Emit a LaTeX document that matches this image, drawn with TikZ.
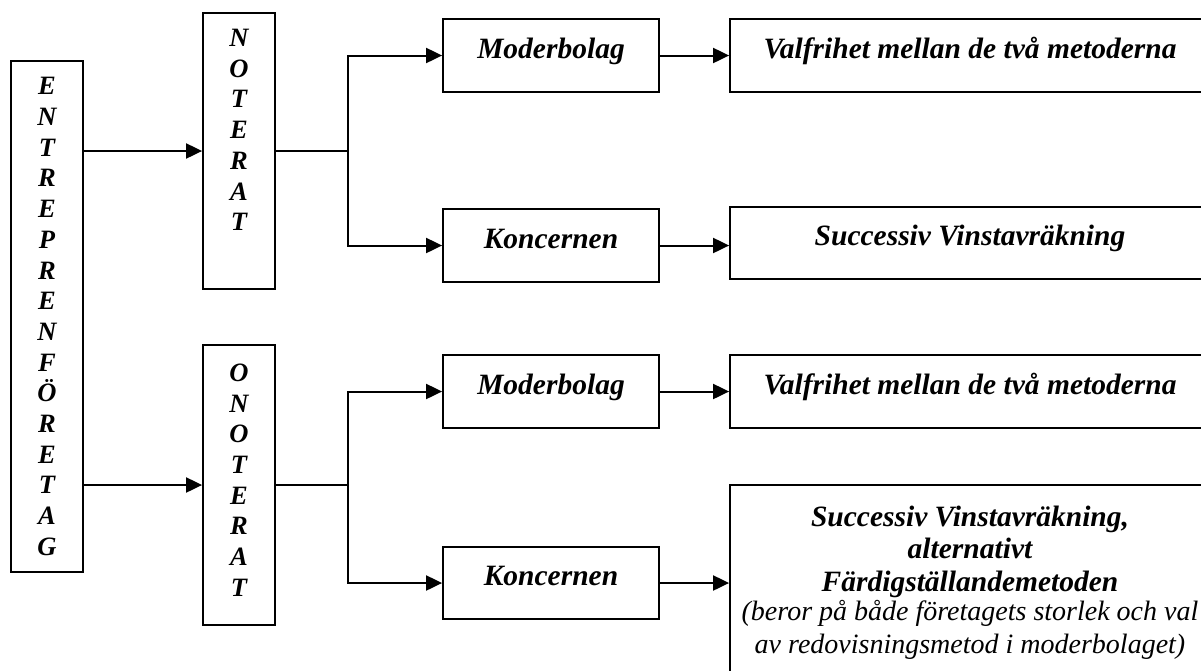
\documentclass[tikz,border=0pt]{standalone}
\usepackage{fontspec}
\setmainfont{Liberation Serif}
\usetikzlibrary{arrows.meta, positioning}

\tikzset{
    ruta/.style={draw, line width=1.8pt, inner sep=0pt, align=center},
    hruta/.style={ruta, minimum width=216pt, minimum height=73pt,
        font=\bfseries\itshape\fontsize{29.5}{32.5}\selectfont,
        text height=19pt, text depth=14pt},
    vruta/.style={ruta, minimum width=72pt,
        font=\bfseries\itshape\fontsize{26.5}{30.7}\selectfont},
    pil/.style={-{Triangle[length=16pt, width=15pt]}, line width=2pt},
    linje/.style={line width=1.3pt}
}

\begin{document}
\begin{tikzpicture}[x=1pt, y=-1pt]
        \useasboundingbox (0,0) rectangle (1201,670);

        % Entreprenadföretag
        \node[vruta, minimum height=511pt] (entre) at (47,316.5)
            {E\\N\\T\\R\\E\\P\\R\\E\\N\\F\\Ö\\R\\E\\T\\A\\G};

        % Noterat / onoterat
        \node[vruta, minimum height=276pt, text depth=42pt] (noterat) at (239,151)
            {N\\O\\T\\E\\R\\A\\T};
        \node[vruta, minimum height=280pt, text depth=10pt] (onoterat) at (239,485)
            {O\\N\\O\\T\\E\\R\\A\\T};

        \draw[pil] (entre.east |- noterat.west) -- (noterat.west);
        \draw[pil] (entre.east |- onoterat.west) -- (onoterat.west);

        % --- Noterat ---
        \node[hruta] (mod1) at (551,55.5) {Moderbolag};
        \node[hruta] (kon1) at (551,245.5) {Koncernen};
        \node[hruta, minimum width=480pt] (val1) at (970,55.5) {Valfrihet mellan de två metoderna};
        \node[hruta, minimum width=480pt, minimum height=72pt] (suc1) at (970,243) {Successiv Vinstavräkning};

        \draw[linje] (noterat.east) -- ++(72,0) coordinate (gren1);
        \draw[pil] (gren1) |- (mod1.west);
        \draw[pil] (gren1) |- (kon1.west);
        \draw[pil] (mod1.east) -- (val1.west);
        \draw[pil] (kon1.east) -- (kon1.east -| suc1.west);

        % --- Onoterat ---
        \node[hruta] (mod2) at (551,391.5) {Moderbolag};
        \node[hruta, minimum height=72pt] (kon2) at (551,583) {Koncernen};
        \node[hruta, minimum width=480pt] (val2) at (970,391.5) {Valfrihet mellan de två metoderna};
        \node[ruta, minimum width=480pt, minimum height=195pt, anchor=north,
              font=\bfseries\itshape\fontsize{29.5}{32.5}\selectfont] (suc2) at (970,484)
            {Successiv Vinstavräkning,\\alternativt\\Färdigställandemetoden\\[-3pt]
             {\mdseries\fontsize{28}{30}\selectfont (beror på både företagets storlek och val}\\
             {\mdseries\fontsize{28}{30}\selectfont av redovisningsmetod i moderbolaget)}};

        \draw[linje] (onoterat.east) -- ++(72,0) coordinate (gren2);
        \draw[pil] (gren2) |- (mod2.west);
        \draw[pil] (gren2) |- (kon2.west);
        \draw[pil] (mod2.east) -- (val2.west);
        \draw[pil] (kon2.east) -- (kon2.east -| suc2.west);

    \end{tikzpicture}
\end{document}
